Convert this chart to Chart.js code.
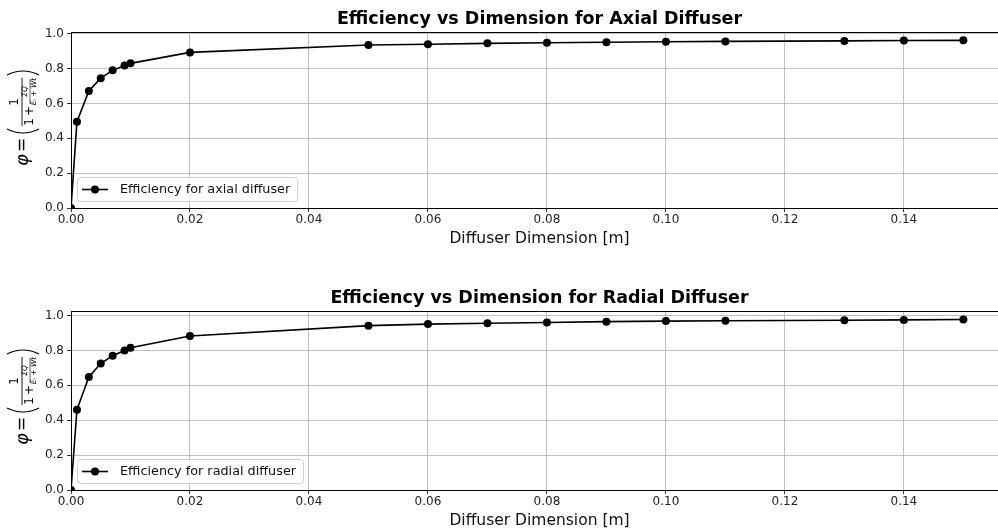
<!DOCTYPE html>
<html>
<head>
<meta charset="utf-8">
<script src="https://cdn.jsdelivr.net/npm/chart.js@4.4.1/dist/chart.umd.min.js"></script>
<style>
  html, body { margin: 0; padding: 0; background: #fff; }
  #wrap { position: relative; width: 998px; height: 529px; overflow: hidden; }
  #wrap canvas { position: absolute; left: 0; }
</style>
</head>
<body>
<div id="wrap">
  <canvas id="axial" width="1012" height="250" style="top:0"></canvas>
  <canvas id="radial" width="1012" height="249" style="top:280px"></canvas>
</div>
<script>
// diffuser dimension [m]
const dimension = [0, 0.001, 0.003, 0.005, 0.007, 0.009, 0.01, 0.02, 0.05, 0.06, 0.07, 0.08, 0.09, 0.10, 0.11, 0.13, 0.14, 0.15];
const axialEff  = [0, 0.495, 0.672, 0.745, 0.790, 0.818, 0.830, 0.893, 0.935, 0.940, 0.945, 0.948, 0.951, 0.954, 0.956, 0.959, 0.961, 0.962];
const radialEff = [0, 0.460, 0.648, 0.725, 0.770, 0.800, 0.815, 0.883, 0.942, 0.951, 0.956, 0.960, 0.965, 0.968, 0.970, 0.973, 0.975, 0.977];

const xTicks = [0, 0.02, 0.04, 0.06, 0.08, 0.10, 0.12, 0.14];
const yTicks = [0, 0.2, 0.4, 0.6, 0.8, 1.0];

const FONT = '"DejaVu Sans", sans-serif';

function drawPhiLabel(ctx, cx, cy) {
  ctx.save();
  ctx.translate(cx, cy);
  ctx.rotate(-Math.PI / 2);
  ctx.fillStyle = '#000';
  ctx.strokeStyle = '#000';
  ctx.textAlign = 'center';
  ctx.textBaseline = 'middle';
  ctx.font = 'italic 18px ' + FONT;
  ctx.fillText('φ', -42, 0);
  ctx.font = '17px ' + FONT;
  ctx.fillText('=', -27, 0);
  // big brackets
  ctx.lineWidth = 1.2;
  ctx.beginPath(); ctx.moveTo(-11, -16); ctx.quadraticCurveTo(-19, 0, -11, 16); ctx.stroke();
  ctx.beginPath(); ctx.moveTo(43, -16); ctx.quadraticCurveTo(51, 0, 43, 16); ctx.stroke();
  // main fraction
  ctx.lineWidth = 0.9;
  ctx.beginPath(); ctx.moveTo(-8, -1); ctx.lineTo(40, -1); ctx.stroke();
  ctx.font = '12px ' + FONT;
  ctx.fillText('1', 16, -8);
  ctx.fillText('1', -4, 7);
  ctx.fillText('+', 7, 7);
  // inner fraction
  ctx.lineWidth = 0.6;
  ctx.beginPath(); ctx.moveTo(14, 7); ctx.lineTo(39, 7); ctx.stroke();
  ctx.font = 'italic 7.5px ' + FONT;
  ctx.fillText('ΣQ', 26.5, 2.5);
  ctx.fillText('Eᵢ + Wt', 26.5, 11.5);
  ctx.restore();
}

const decor = {
  id: 'decor',
  afterDraw(chart, args, opts) {
    const ctx = chart.ctx;
    const a = chart.chartArea;
    ctx.save();
    // top spine
    ctx.strokeStyle = '#000';
    ctx.lineWidth = 1;
    ctx.beginPath();
    ctx.moveTo(a.left, a.top + 0.5);
    ctx.lineTo(a.right, a.top + 0.5);
    ctx.stroke();

    // title
    ctx.fillStyle = '#000';
    ctx.textAlign = 'center';
    ctx.textBaseline = 'alphabetic';
    ctx.font = 'bold 17.5px ' + FONT;
    ctx.fillText(opts.title, (a.left + a.right) / 2, a.top - 8);

    // x axis label
    ctx.font = '15.5px ' + FONT;
    ctx.fillStyle = '#111';
    ctx.fillText('Diffuser Dimension [m]', (a.left + a.right) / 2, a.bottom + 35);

    // legend, lower left inside the axes
    const label = chart.data.datasets[0].label;
    ctx.font = '12.8px ' + FONT;
    const tw = ctx.measureText(label).width;
    const bx = a.left + 6, bh = 24, by = a.bottom - 7 - bh, bw = tw + 50;
    ctx.fillStyle = 'rgba(255,255,255,0.8)';
    ctx.strokeStyle = '#d0d0d0';
    ctx.lineWidth = 1;
    ctx.beginPath();
    ctx.roundRect(bx + 0.5, by + 0.5, bw, bh, 3);
    ctx.fill();
    ctx.stroke();
    const my = by + bh / 2 + 0.5;
    ctx.strokeStyle = '#000';
    ctx.lineWidth = 1.6;
    ctx.beginPath();
    ctx.moveTo(bx + 5, my);
    ctx.lineTo(bx + 31, my);
    ctx.stroke();
    ctx.fillStyle = '#000';
    ctx.beginPath();
    ctx.arc(bx + 18, my, 4, 0, Math.PI * 2);
    ctx.fill();
    ctx.fillStyle = '#111';
    ctx.textAlign = 'left';
    ctx.textBaseline = 'middle';
    ctx.fillText(label, bx + 43, my);

    drawPhiLabel(ctx, 23, a.top + 86);
    ctx.restore();
  }
};

function makeChart(id, label, values, yMax, title, padTop, xAxisHeight) {
  return new Chart(document.getElementById(id), {
    type: 'line',
    data: {
      datasets: [{
        label: label,
        data: dimension.map((d, i) => ({ x: d, y: values[i] })),
        borderColor: '#000',
        backgroundColor: '#000',
        borderWidth: 1.6,
        pointRadius: 4,
        pointHoverRadius: 4,
        pointBackgroundColor: '#000',
        pointBorderWidth: 0,
        tension: 0
      }]
    },
    options: {
      responsive: false,
      animation: false,
      events: [],
      layout: { padding: { top: padTop, right: 2, left: 0, bottom: 0 } },
      plugins: {
        legend: { display: false },
        tooltip: { enabled: false },
        decor: { title: title }
      },
      scales: {
        x: {
          type: 'linear',
          min: 0,
          max: 0.1575,
          afterBuildTicks: s => { s.ticks = xTicks.map(v => ({ value: v })); },
          afterFit: s => { s.height = xAxisHeight; },
          grid: { color: '#b0b0b0', lineWidth: 0.8, tickLength: 4, tickColor: '#000', drawTicks: true },
          border: { color: '#000', width: 1 },
          ticks: {
            color: '#222',
            font: { family: FONT, size: 12 },
            padding: 1,
            maxRotation: 0,
            autoSkip: false,
            callback: v => v.toFixed(2)
          }
        },
        y: {
          min: 0,
          max: yMax,
          afterBuildTicks: s => { s.ticks = yTicks.map(v => ({ value: v })); },
          afterFit: s => { s.width = 71; },
          grid: { color: '#b0b0b0', lineWidth: 0.8, tickLength: 4, tickColor: '#000', drawTicks: true },
          border: { color: '#000', width: 1 },
          ticks: {
            color: '#222',
            font: { family: FONT, size: 12 },
            padding: 3,
            callback: v => v.toFixed(1)
          }
        }
      }
    },
    plugins: [decor]
  });
}

makeChart('axial', 'Efficiency for axial diffuser', axialEff, 1.010,
  'Efficiency vs Dimension for Axial Diffuser', 32, 42);
makeChart('radial', 'Efficiency for radial diffuser', radialEff, 1.026,
  'Efficiency vs Dimension for Radial Diffuser', 31, 39);
</script>
</body>
</html>
